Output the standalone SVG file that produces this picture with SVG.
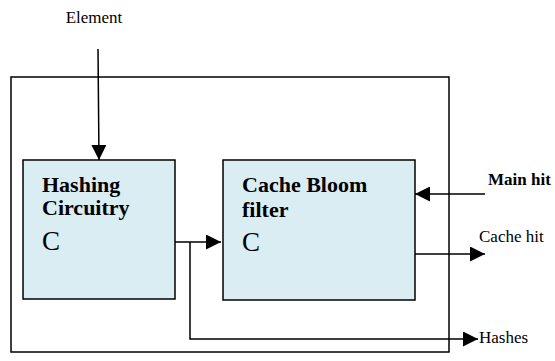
<svg xmlns="http://www.w3.org/2000/svg" width="555" height="361" viewBox="0 0 555 361">
  <defs>
    <marker id="arrow" viewBox="0 0 10 10" refX="10" refY="5" markerWidth="15" markerHeight="15" markerUnits="userSpaceOnUse" orient="auto">
      <path d="M0,0 L10,5 L0,10 z" fill="#000"/>
    </marker>
    <style>
      .frame { fill: #fff; stroke: #000; stroke-width: 1.5; }
      .block { fill: #daedf3; stroke: #000; stroke-width: 1.5; }
      .wire { fill: none; stroke: #000; stroke-width: 1.5; }
      text { font-family: 'Liberation Serif', 'Times New Roman', 'DejaVu Serif', serif; fill: #000; }
      .title { font-size: 22px; font-weight: bold; }
      .big { font-size: 27px; }
      .label { font-size: 17px; }
      .label-b { font-size: 17px; font-weight: bold; }
    </style>
  </defs>

  <!-- enclosing unit -->
  <rect id="frame" class="frame" x="11" y="77" width="438" height="275"/>

  <g id="hashing">
    <rect class="block" x="23" y="160" width="152" height="139"/>
    <text class="title" x="42" y="192">Hashing</text>
    <text class="title" x="42" y="215">Circuitry</text>
    <text class="big" x="42" y="250">C</text>
  </g>

  <g id="cache-bloom">
    <rect class="block" x="223" y="160" width="192" height="140"/>
    <text class="title" x="242" y="192">Cache Bloom</text>
    <text class="title" x="242" y="217">filter</text>
    <text class="big" x="242" y="251">C</text>
  </g>

  <g id="labels">
    <text class="label" x="94" y="23" text-anchor="middle">Element</text>
    <text class="label-b" x="488" y="185">Main hit</text>
    <text class="label" x="479" y="242">Cache hit</text>
    <text class="label" x="479" y="343">Hashes</text>
  </g>

  <g id="connectors">
    <line class="wire" x1="98" y1="49" x2="99" y2="160" marker-end="url(#arrow)"/>
    <line class="wire" x1="175" y1="242" x2="221" y2="242" marker-end="url(#arrow)"/>
    <polyline class="wire" points="190,242 190,339 478,339" marker-end="url(#arrow)"/>
    <line class="wire" x1="485" y1="194" x2="415" y2="194" marker-end="url(#arrow)"/>
    <line class="wire" x1="415" y1="254" x2="485" y2="254" marker-end="url(#arrow)"/>
  </g>
</svg>
